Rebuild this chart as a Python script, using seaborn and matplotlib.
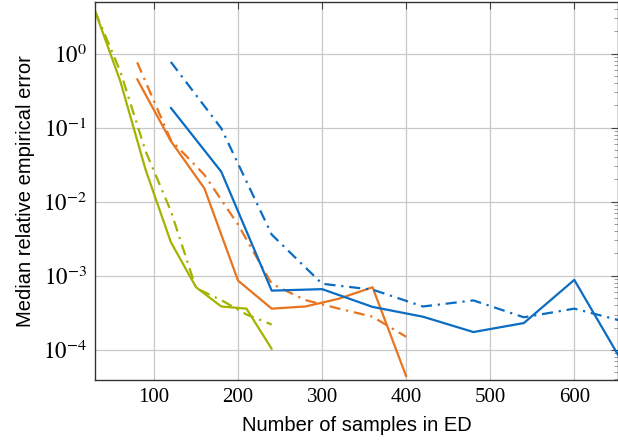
import numpy as np
import pandas as pd
import matplotlib
matplotlib.use("Agg")
import matplotlib.pyplot as plt
import seaborn as sns

# values
green_x = [30, 60, 90, 120, 150, 180, 210, 240]
green_solid = [3.7, 0.42, 0.027, 2.85e-3, 7.0e-4, 3.85e-4, 3.6e-4, 1.03e-4]
green_dashdot = [3.7, 0.57, 0.048, 7.5e-3, 6.8e-4, 4.7e-4, 3.0e-4, 2.2e-4]

orange_x = [80, 120, 160, 200, 240, 280, 320, 360, 400]
orange_solid = [0.45, 0.066, 0.0151, 8.6e-4, 3.6e-4, 3.85e-4, 4.9e-4, 7.0e-4, 4.4e-5]
orange_dashdot = [0.76, 0.068, 0.023, 4.9e-3, 7.8e-4, 4.7e-4, 3.6e-4, 2.8e-4, 1.5e-4]

blue_x = [120, 180, 240, 300, 360, 420, 480, 540, 600, 660]
blue_solid = [0.185, 0.0254, 6.3e-4, 6.6e-4, 3.8e-4, 2.8e-4, 1.74e-4, 2.3e-4, 8.8e-4, 6.0e-5]
blue_dashdot = [0.77, 0.098, 3.6e-3, 7.8e-4, 6.5e-4, 3.85e-4, 4.65e-4, 2.75e-4, 3.6e-4, 2.4e-4]

x_ticks = [100, 200, 300, 400, 500, 600]
y_ticks = [1e-4, 1e-3, 1e-2, 1e-1, 1e0]

colors = {"green": "#A3B300", "orange": "#E8741E", "blue": "#0A6CC2"}

rows = []
for name, xs, solid, dd in [("green", green_x, green_solid, green_dashdot),
                            ("orange", orange_x, orange_solid, orange_dashdot),
                            ("blue", blue_x, blue_solid, blue_dashdot)]:
    for x, s, d in zip(xs, solid, dd):
        rows.append({"n": x, "err": s, "color": name, "style": "solid"})
        rows.append({"n": x, "err": d, "color": name, "style": "dashdot"})
df = pd.DataFrame(rows)

sns.set_style("white")
plt.rcParams["mathtext.fontset"] = "stix"
plt.rcParams["font.family"] = ["Liberation Sans", "DejaVu Sans"]
plt.rcParams["text.color"] = "black"
plt.rcParams["axes.labelcolor"] = "black"
plt.rcParams["xtick.color"] = "black"
plt.rcParams["ytick.color"] = "black"

fig = plt.figure(figsize=(6.18, 4.41), dpi=100)
ax = fig.add_axes([0.154, 0.138, 0.846, 0.858])

sns.lineplot(data=df, x="n", y="err", hue="color", style="style",
             palette=colors, dashes={"solid": "", "dashdot": (5, 2.6, 1, 2.6)},
             linewidth=1.6, legend=False, ax=ax, estimator=None, sort=True)

ax.set_yscale("log")
ax.set_xlim(30, 652)
ax.set_ylim(3.9e-5, 5.0)
ax.set_xticks(x_ticks)
ax.set_yticks(y_ticks)
ax.set_xticklabels([str(t) for t in x_ticks], family="Liberation Serif", fontsize=15)
ax.set_yticklabels([r"$10^{%d}$" % int(np.log10(t)) for t in y_ticks], fontsize=16.5)
ax.grid(True, which="major", color="#c8c8c8", linewidth=0.9)
ax.tick_params(which="both", direction="in", top=True, right=True)
ax.tick_params(which="major", length=5, color="#444444", pad=6)
ax.tick_params(which="minor", length=3, color="#888888")
for s in ax.spines.values():
    s.set_color("#333333")
    s.set_linewidth(1.0)

ax.set_xlabel("Number of samples in ED", fontsize=14.5, labelpad=6)
ax.set_ylabel("Median relative empirical error", fontsize=14.5, labelpad=6)

fig.savefig("out.png", dpi=100)
